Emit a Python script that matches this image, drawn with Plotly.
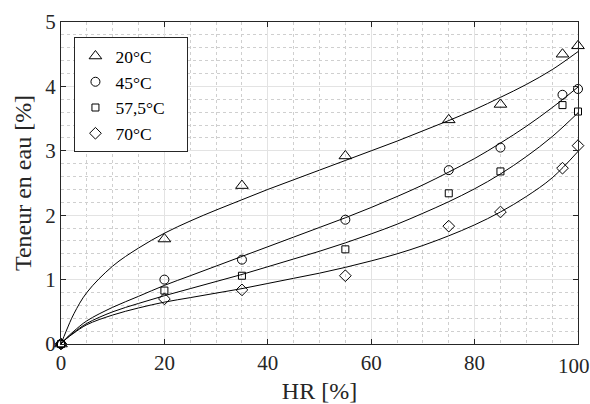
import plotly.graph_objects as go

# measured points
hr = [0, 20, 35, 55, 75, 85, 97, 100]
t20 = [0, 1.63, 2.46, 2.92, 3.48, 3.72, 4.50, 4.63]
t45 = [0, 1.00, 1.31, 1.93, 2.70, 3.05, 3.87, 3.96]
t575 = [0, 0.83, 1.06, 1.47, 2.34, 2.68, 3.71, 3.61]
t70 = [0, 0.70, 0.84, 1.06, 1.83, 2.05, 2.73, 3.08]

# fitted curves
hr_fit = [0, 1, 2.5, 5, 10, 15, 20, 25, 30, 35, 40, 45, 50, 55, 60, 65, 70, 75, 80, 85, 90, 95, 100]
fit20 = [0, 0.2, 0.47, 0.80, 1.21, 1.49, 1.72, 1.91, 2.08, 2.24, 2.40, 2.55, 2.70, 2.85,
         3.0, 3.15, 3.31, 3.47, 3.64, 3.83, 4.03, 4.26, 4.54]
fit45 = [0, 0.09, 0.2, 0.36, 0.57, 0.74, 0.91, 1.06, 1.21, 1.36, 1.51, 1.66, 1.81, 1.96,
         2.12, 2.29, 2.47, 2.67, 2.88, 3.12, 3.38, 3.67, 3.99]
fit575 = [0, 0.08, 0.18, 0.32, 0.50, 0.63, 0.75, 0.86, 0.97, 1.08, 1.20, 1.32, 1.44, 1.57,
          1.71, 1.86, 2.03, 2.21, 2.41, 2.64, 2.91, 3.22, 3.59]
fit70 = [0, 0.08, 0.17, 0.30, 0.45, 0.56, 0.65, 0.72, 0.79, 0.86, 0.94, 1.02, 1.10, 1.19,
         1.29, 1.40, 1.53, 1.68, 1.85, 2.05, 2.29, 2.58, 2.99]

labels = ["20°C", "45°C", "57,5°C", "70°C"]
symbols = ["triangle-up-open", "circle-open", "square-open", "diamond-open"]
sizes = [11, 9, 7, 9]

x_ticks = [0, 20, 40, 60, 80, 100]

ink = "#262626"
font = "Liberation Serif"
pad = "\u00a0" * 4  # extra room on the right of the legend box, like the original

fig = go.Figure()

for fit in [fit20, fit45, fit575, fit70]:
    fig.add_trace(go.Scatter(
        x=hr_fit, y=fit, mode="lines", showlegend=False,
        line=dict(color="black", width=1, shape="spline", smoothing=1),
        hoverinfo="skip",
    ))

for y, name, sym, sz in zip([t20, t45, t575, t70], labels, symbols, sizes):
    fig.add_trace(go.Scatter(
        x=hr, y=y, mode="markers", name=name + pad, cliponaxis=False,
        marker=dict(symbol=sym, size=sz, color="black", line=dict(color="black", width=1)),
    ))

axis_common = dict(
    showline=True, linecolor=ink, linewidth=1, mirror="ticks",
    ticks="inside", ticklen=5, tickcolor=ink,
    showgrid=True, gridcolor="#e3e3e3", gridwidth=1,
    zeroline=False,
    tickfont=dict(family=font, size=21, color=ink),
)

# last x label is pulled a little inside the figure, as in the original
fig.update_xaxes(
    range=[0, 100], tickvals=x_ticks,
    ticktext=[str(v) for v in x_ticks[:-1]] + [""],
    title=dict(text="HR [%]", font=dict(family=font, size=24, color=ink), standoff=8),
    minor=dict(dtick=5, showgrid=True, gridcolor="#cfcfcf", griddash="dot", ticks=""),
    **axis_common,
)
fig.add_annotation(
    x=x_ticks[-1], xref="x", y=0, yref="paper", text=str(x_ticks[-1]),
    showarrow=False, xanchor="center", yanchor="middle", xshift=-4.5, yshift=-21.5,
    font=dict(family=font, size=21, color=ink),
)
fig.update_yaxes(
    range=[0, 5], dtick=1, tick0=0,
    title=dict(text="Teneur en eau [%]", font=dict(family=font, size=24, color=ink), standoff=6),
    minor=dict(dtick=0.2, showgrid=True, gridcolor="#cfcfcf", griddash="dot", ticks=""),
    **axis_common,
)

fig.update_layout(
    width=590, height=404,
    margin=dict(l=61, r=12, t=22, b=60, autoexpand=False),
    paper_bgcolor="white", plot_bgcolor="white",
    font=dict(family=font, color=ink),
    legend=dict(
        x=0.026, y=0.953, xanchor="left", yanchor="top",
        bordercolor=ink, borderwidth=1, bgcolor="white",
        font=dict(family=font, size=17.5, color="black"),
    ),
)

fig.write_html("out.html", config={"displayModeBar": False},
               post_script="document.body.style.margin='0';")
